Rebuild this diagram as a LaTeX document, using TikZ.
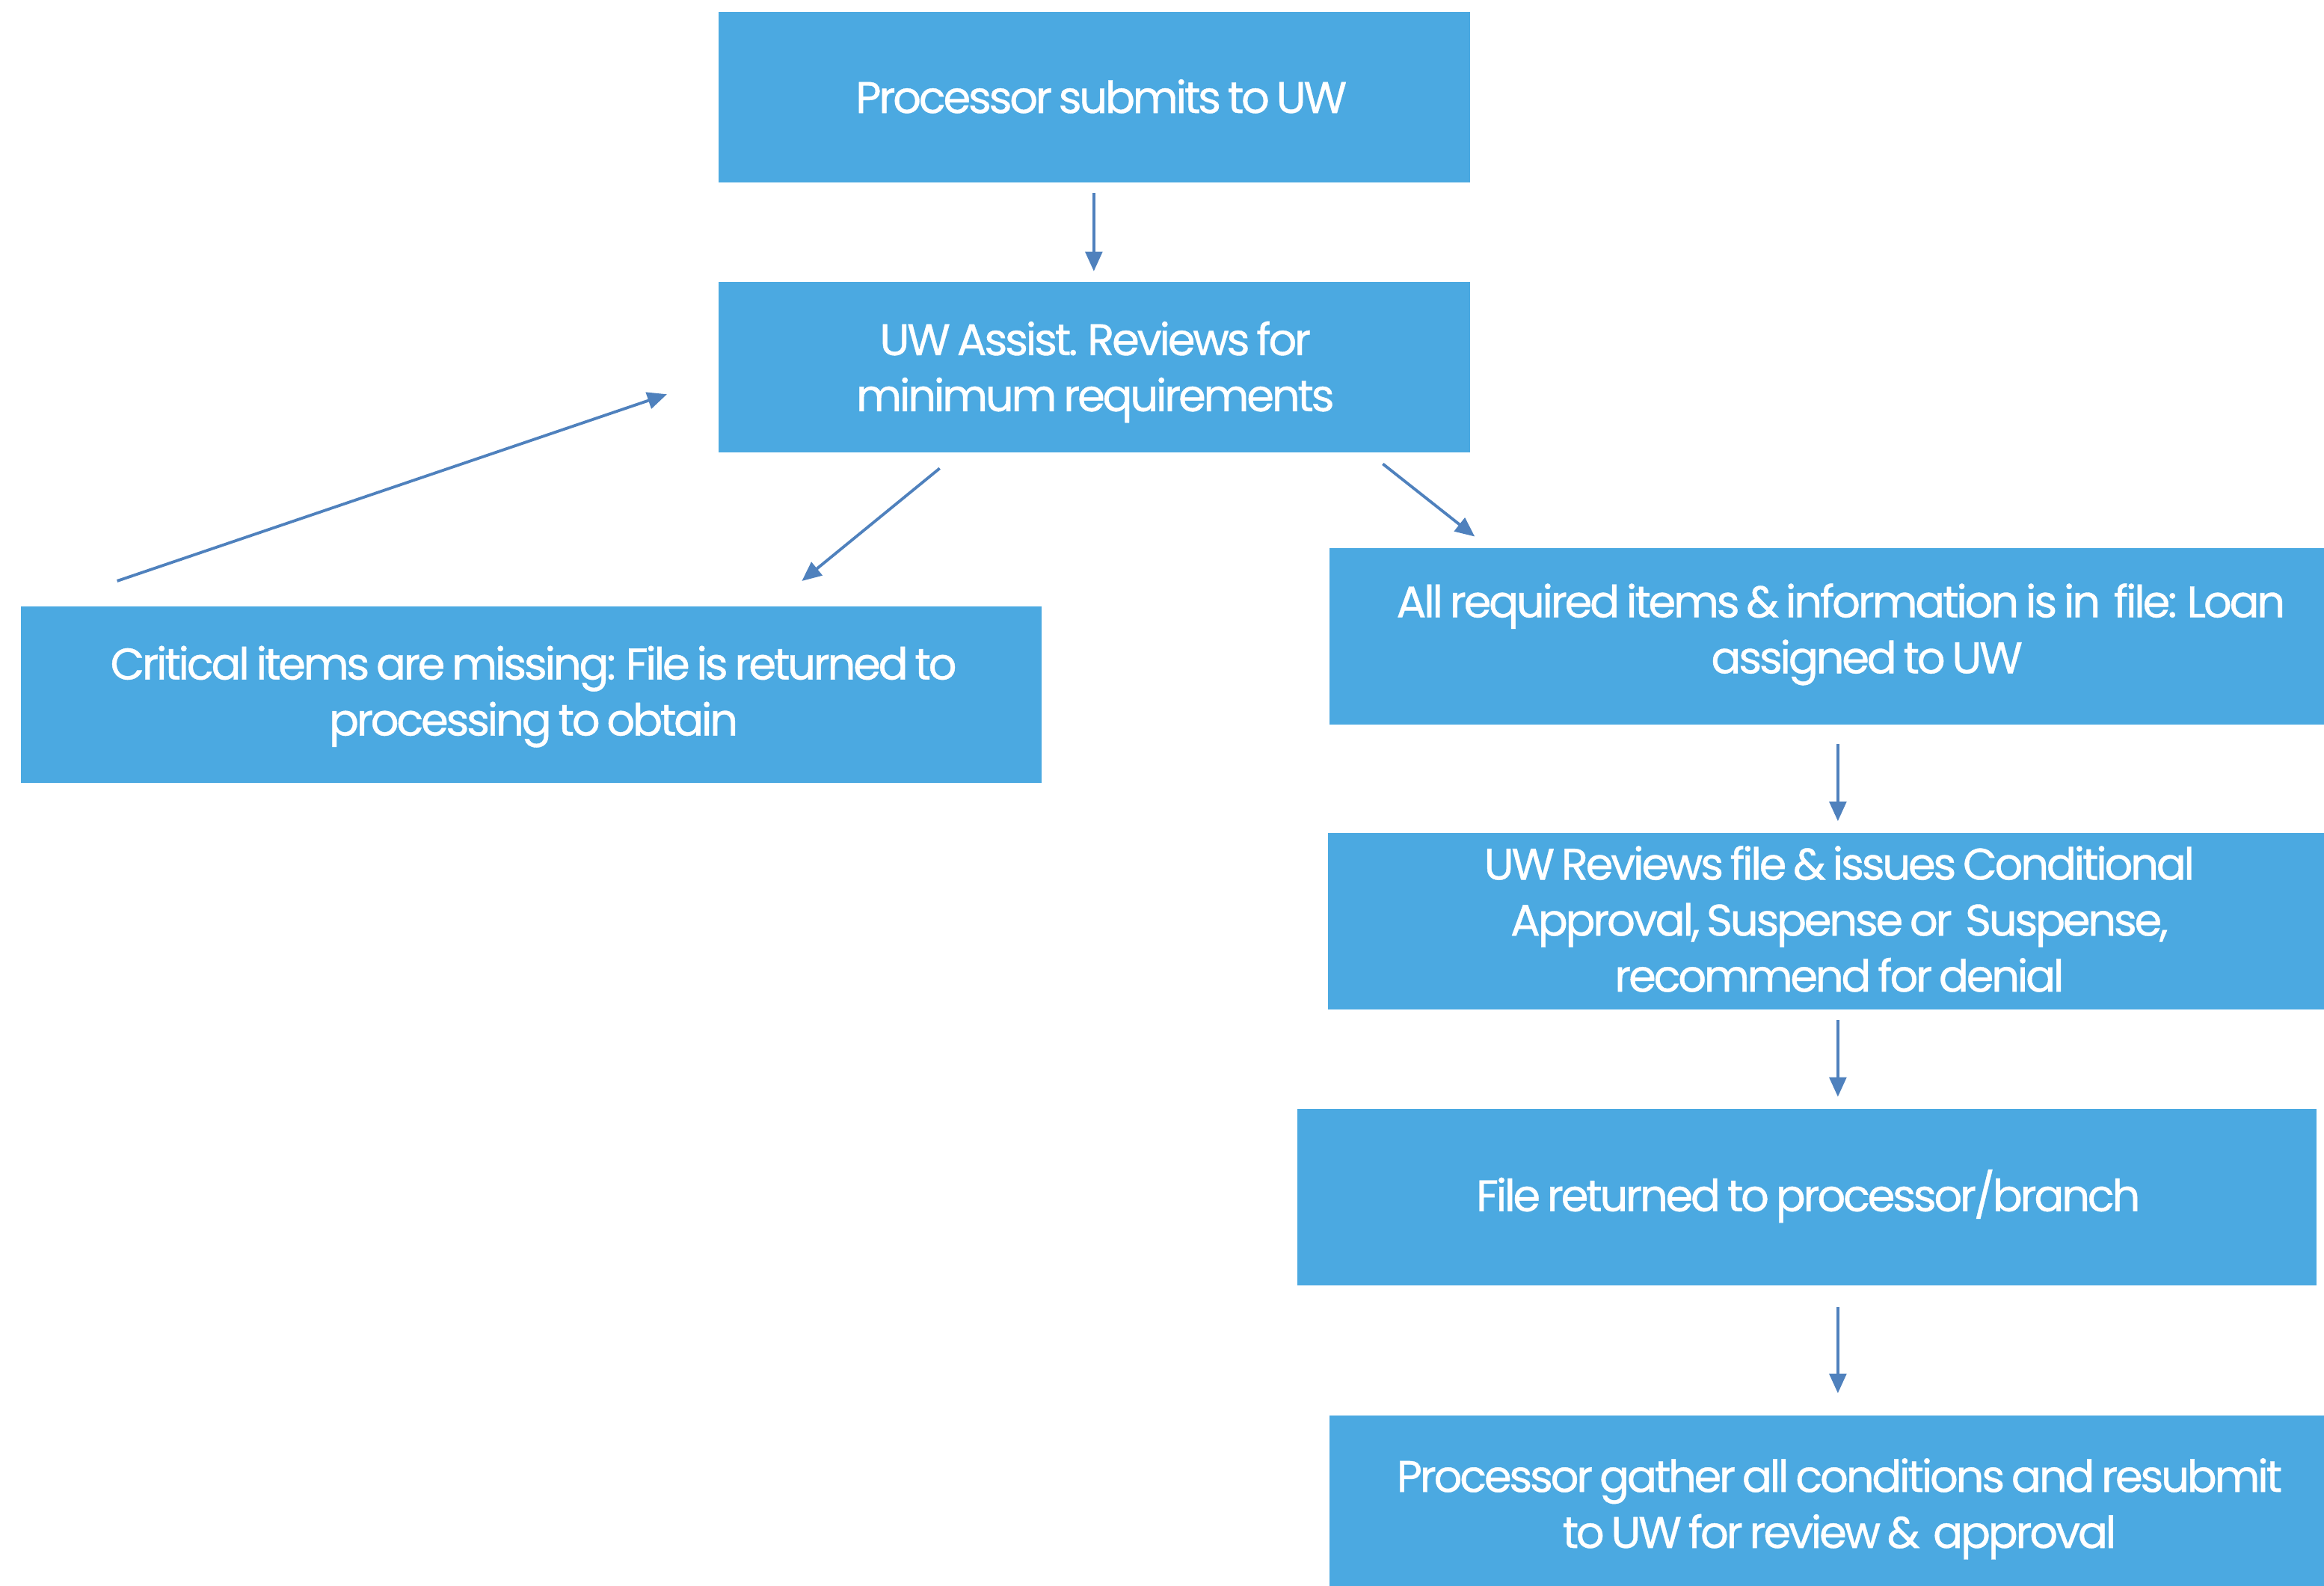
\documentclass[tikz,border=0pt]{standalone}
\usepackage{fontspec}
\setmainfont{Poppins}[LetterSpace=-5.5,WordSpace=0.7,FakeBold=0.7]
\usetikzlibrary{arrows.meta}
\definecolor{boxblue}{HTML}{4BA9E1}
\definecolor{arrowblue}{HTML}{4F81BD}
\tikzset{
  stepbox/.style={fill=boxblue, draw=none, inner sep=0pt, rectangle},
  boxtext/.style={text=white, align=center, font=\fontsize{17}{21.5}\selectfont, inner sep=0pt},
  flow/.style={draw=arrowblue, line width=1.1pt, -{Triangle[length=7.5pt,width=6.5pt]}}
}
\begin{document}
\begin{tikzpicture}[x=0.02cm, y=-0.02cm]
\useasboundingbox (0,0) rectangle (1568,1070);
% boxes
\node[stepbox, minimum width=10.14cm, minimum height=2.30cm] (b1) at (738.5,65.5) {};
\node[stepbox, minimum width=10.14cm, minimum height=2.30cm] (b2) at (738.5,247.5) {};
\node[stepbox, minimum width=13.78cm, minimum height=2.38cm] (b3) at (358.5,468.5) {};
\node[stepbox, minimum width=13.42cm, minimum height=2.38cm] (b4) at (1232.5,429.5) {};
\node[stepbox, minimum width=13.44cm, minimum height=2.38cm] (b5) at (1232,621.5) {};
\node[stepbox, minimum width=13.76cm, minimum height=2.38cm] (b6) at (1219,807.5) {};
\node[stepbox, minimum width=13.42cm, minimum height=2.30cm] (b7) at (1232.5,1012.5) {};
% texts
\node[boxtext] (t1) at (743,65) {Processor submits to UW};
\node[boxtext] (t2) at (739,251) {UW Assist. Reviews for\\minimum requirements};
\node[boxtext] (t3) at (360,470) {Critical items are missing: File is returned to\\processing to obtain};
\node[boxtext] (t4) at (1242,428) {All required items \& information is in\ \ file: Loan\\\hspace*{20pt}assigned to UW};
\node[boxtext] (t5) at (1241,620) {UW Reviews file \& issues Conditional\\Approval, Suspense or\ \ Suspense,\\recommend for denial};
\node[boxtext] (t6) at (1220,807) {File returned to processor/branch};
\node[boxtext] (t7) at (1241,1018) {Processor gather all conditions and resubmit\\to UW for review \&\ \ approval};
% connector end points
\coordinate (a1s) at (738,130);  \coordinate (a1e) at (738,183);
\coordinate (a2s) at (634,316);  \coordinate (a2e) at (541,392);
\coordinate (a3s) at (933,313);  \coordinate (a3e) at (995,362);
\coordinate (a4s) at (79,392);   \coordinate (a4e) at (450,266);
\coordinate (a5s) at (1240,502); \coordinate (a5e) at (1240,554);
\coordinate (a6s) at (1240,688); \coordinate (a6e) at (1240,740);
\coordinate (a7s) at (1240,882); \coordinate (a7e) at (1240,940);
\draw[flow] (a1s) -- (a1e);
\draw[flow] (a2s) -- (a2e);
\draw[flow] (a3s) -- (a3e);
\draw[flow] (a4s) -- (a4e);
\draw[flow] (a5s) -- (a5e);
\draw[flow] (a6s) -- (a6e);
\draw[flow] (a7s) -- (a7e);
\end{tikzpicture}
\end{document}
